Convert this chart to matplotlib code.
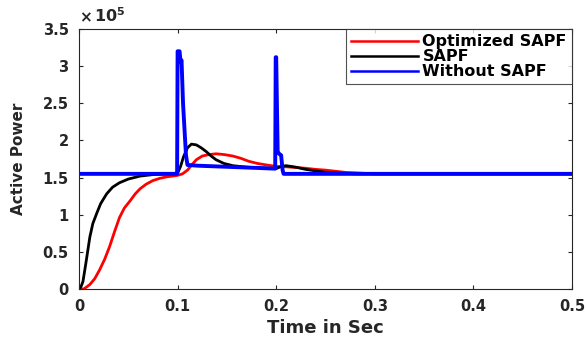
import matplotlib
matplotlib.use("Agg")
import matplotlib.pyplot as plt
from matplotlib.ticker import FixedLocator, FuncFormatter

plt.rcParams['font.family'] = ['DejaVu Sans']
plt.rcParams['font.weight'] = 'bold'
plt.rcParams['mathtext.fontset'] = 'dejavusans'

SCALE = 1e5

# Optimized SAPF (red)
t_opt = [0.0, 0.005, 0.011, 0.016, 0.021, 0.026, 0.031, 0.036, 0.041, 0.046, 0.052, 0.057,
         0.062, 0.068, 0.075, 0.082, 0.089, 0.095, 0.100, 0.105, 0.110, 0.115, 0.119, 0.125,
         0.132, 0.139, 0.147, 0.156, 0.164, 0.172, 0.181, 0.190, 0.200, 0.210, 0.220, 0.230,
         0.240, 0.250, 0.260, 0.270, 0.285, 0.300, 0.500]
p_opt = [0.0, 0.0, 0.06, 0.14, 0.26, 0.40, 0.57, 0.77, 0.96, 1.09, 1.19, 1.28,
         1.35, 1.41, 1.46, 1.49, 1.51, 1.52, 1.53, 1.55, 1.60, 1.68, 1.74, 1.79,
         1.81, 1.82, 1.81, 1.79, 1.76, 1.72, 1.69, 1.67, 1.65, 1.645, 1.635, 1.625,
         1.61, 1.60, 1.585, 1.57, 1.56, 1.55, 1.55]

# SAPF (black)
t_sapf = [0.0, 0.002, 0.004, 0.007, 0.011, 0.014, 0.018, 0.022, 0.028, 0.034, 0.041, 0.050,
          0.062, 0.075, 0.090, 0.100, 0.103, 0.106, 0.110, 0.114, 0.119, 0.124, 0.129, 0.134,
          0.139, 0.147, 0.156, 0.170, 0.185, 0.200, 0.205, 0.210, 0.220, 0.230, 0.240, 0.250,
          0.265, 0.280, 0.500]
p_sapf = [0.0, 0.03, 0.10, 0.35, 0.70, 0.88, 1.02, 1.15, 1.28, 1.37, 1.43, 1.48,
          1.52, 1.54, 1.55, 1.56, 1.65, 1.78, 1.90, 1.95, 1.94, 1.90, 1.85, 1.79,
          1.74, 1.69, 1.66, 1.64, 1.63, 1.62, 1.65, 1.66, 1.64, 1.61, 1.59, 1.57,
          1.56, 1.55, 1.55]

# Without SAPF (blue)
t_wo = [0.0, 0.0995, 0.1000, 0.1020, 0.1030, 0.1040, 0.1055, 0.1070, 0.1085, 0.1100,
        0.1200, 0.1500, 0.1800, 0.1990, 0.1995, 0.2000, 0.2015, 0.2030, 0.2050, 0.2065,
        0.2075, 0.5000]
p_wo = [1.55, 1.55, 3.20, 3.20, 3.05, 3.08, 2.50, 2.15, 1.80, 1.67,
        1.66, 1.645, 1.63, 1.62, 3.12, 3.12, 1.85, 1.82, 1.80, 1.60,
        1.55, 1.55]

xticks = [0, 0.1, 0.2, 0.3, 0.4, 0.5]
yticks = [0, 0.5, 1, 1.5, 2, 2.5, 3, 3.5]

TXT = '#262626'

fig = plt.figure(figsize=(5.87, 3.38), dpi=100)
ax = fig.add_axes([0.1346, 0.145, 0.8398, 0.7692])

ax.plot(t_opt, [v * SCALE for v in p_opt], color='#ff0000', lw=2.0, label='Optimized SAPF')
ax.plot(t_sapf, [v * SCALE for v in p_sapf], color='#000000', lw=2.0, label='SAPF')
ax.plot(t_wo, [v * SCALE for v in p_wo], color='#0000ff', lw=2.8, label='Without SAPF')

ax.set_xlim(0, 0.5)
ax.set_ylim(0, 3.5 * SCALE)
ax.xaxis.set_major_locator(FixedLocator(xticks))
ax.yaxis.set_major_locator(FixedLocator([v * SCALE for v in yticks]))
ax.xaxis.set_major_formatter(FuncFormatter(lambda v, p: f"{v:g}"))
ax.yaxis.set_major_formatter(FuncFormatter(lambda v, p: f"{v / SCALE:g}"))
ax.tick_params(direction='in', length=3, width=0.8, labelsize=10.5, top=True, right=True,
               colors=TXT, labelcolor=TXT)
ax.tick_params(axis='x', pad=7)
ax.tick_params(axis='y', pad=7.5)
for lab in ax.get_xticklabels() + ax.get_yticklabels():
    lab.set_fontweight('bold')
for s in ax.spines.values():
    s.set_linewidth(0.8)
    s.set_color(TXT)

ax.set_xlabel('Time in Sec', fontsize=13, fontweight='bold', color=TXT, labelpad=3.5)
ax.set_ylabel('Active Power', fontsize=11, fontweight='bold', color=TXT, labelpad=12)

ax.text(0.0, 1.015, r'$\times$', transform=ax.transAxes, fontsize=11,
        ha='left', va='bottom', color=TXT)
ax.text(0.031, 1.015, r'$\mathbf{10^5}$', transform=ax.transAxes, fontsize=11.5,
        ha='left', va='bottom', color=TXT)

leg = ax.legend(loc='upper right', bbox_to_anchor=(1.0, 1.0), frameon=True,
                fancybox=False, borderaxespad=0, handlelength=4.2, handletextpad=0.3,
                labelspacing=0.0, borderpad=0.32, prop={'weight': 'bold', 'size': 11.5})
leg.get_frame().set_edgecolor(TXT)
leg.get_frame().set_linewidth(0.8)
for h in leg.legend_handles:
    h.set_linewidth(1.8)

fig.savefig('out.png', dpi=100)
